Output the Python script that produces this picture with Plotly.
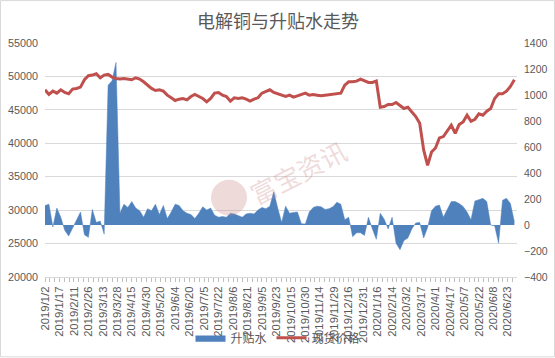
import plotly.graph_objects as go

# trading-day index (every 3rd trading day from 2019/1/2)
day_index = list(range(0, 360, 3))

# 升贴水 (right axis)
premium = [150, 160, -15, 130, 60, -40, -85, -20, 40, 100,
           -75, -95, 120, 20, 30, -70, 1075, 1110, 1250, 90,
           160, 135, 180, 130, 110, 60, 125, 110, 160, 80,
           150, 50, 100, 160, 150, 110, 90, 80, 50, 90,
           140, 115, 130, 75, 60, 65, 60, 90, 85, 70,
           60, 85, 90, 85, 115, 135, 125, 145, 255, 130,
           20, 145, 90, 97, 100, 10, 8, 100, 135, 145,
           140, 120, 125, 140, 175, 160, 40, 60, -90, -60,
           -60, -80, 60, -30, -110, 90, 45, -30, 60, -140,
           -190, -120, -100, -30, 15, 20, -100, -20, 110, 145,
           153, 60, 120, 180, 180, 165, 143, 100, 40, 185,
           195, 205, 180, 0, -5, -140, 190, 205, 165, 25]

# 现货价格 (left axis)
price = [48000, 47300, 47800, 47500, 48000, 47600, 47400, 48100, 48200, 48400,
         49500, 50100, 50200, 50400, 49800, 50200, 50300, 49900, 49700, 49600,
         49700, 49600, 49500, 49800, 49600, 49200, 48700, 48200, 47900, 48000,
         47800, 47200, 46800, 46400, 46600, 46700, 46500, 47000, 47300, 47000,
         46700, 46200, 46700, 47500, 47600, 47200, 47000, 46300, 46800, 46700,
         46800, 46600, 46300, 46600, 46800, 47500, 47700, 48000, 47600, 47400,
         47200, 47000, 47200, 46900, 47100, 47300, 47500, 47200, 47300, 47200,
         47100, 47200, 47300, 47400, 47400, 47500, 48700, 49200, 49200, 49300,
         49600, 49300, 49100, 49100, 49300, 45400, 45500, 45800, 45800, 46100,
         45600, 45200, 45400, 44700, 44000, 43000, 39000, 36700, 38700, 39300,
         40800, 41000, 41900, 42700, 41500, 42800, 43200, 44200, 43300, 43600,
         44400, 44200, 44800, 45200, 46700, 47400, 47400, 47800, 48500, 49500]

tick_index = list(range(0, 353, 11))
tick_labels = ["2019/1/2", "2019/1/17", "2019/2/11", "2019/2/26", "2019/3/13",
               "2019/3/28", "2019/4/15", "2019/4/30", "2019/5/20", "2019/6/4",
               "2019/6/20", "2019/7/5", "2019/7/22", "2019/8/6", "2019/8/21",
               "2019/9/5", "2019/9/23", "2019/10/15", "2019/10/30", "2019/11/14",
               "2019/11/29", "2019/12/16", "2019/12/31", "2020/1/16", "2020/2/14",
               "2020/3/2", "2020/3/17", "2020/4/1", "2020/4/17", "2020/5/7",
               "2020/5/22", "2020/6/8", "2020/6/23"]

BLUE = "#4F81BD"
RED = "#C0504D"
GRAY = "#595959"
GRID = "#D9D9D9"
NUMFONT = "Liberation Sans, Arial, sans-serif"
CJK = "Noto Sans CJK SC, sans-serif"

fig = go.Figure()
fig.add_trace(go.Scatter(
    x=day_index, y=premium, name="升贴水", mode="lines",
    line=dict(color=BLUE, width=0.5), fill="tozeroy", fillcolor=BLUE,
    yaxis="y"))
fig.add_trace(go.Scatter(
    x=day_index, y=price, name="现货价格", mode="lines",
    line=dict(color=RED, width=3), yaxis="y2"))

W, H = 555, 366
L, R, T = 45, 38, 43
PLOT_BOTTOM = 277.5
B = H - PLOT_BOTTOM
pw, ph = W - L - R, PLOT_BOTTOM - T

def px(xp):
    return (xp - L) / pw

def py(yp):
    return (PLOT_BOTTOM - yp) / ph

shapes = [
    dict(type="rect", xref="paper", yref="paper",
         x0=px(0.5), x1=px(554.5), y0=py(357.5), y1=py(0.5),
         line=dict(color=GRID, width=1), fillcolor="rgba(0,0,0,0)", layer="below"),
    dict(type="circle", xref="paper", yref="paper",
         x0=px(211), x1=px(247), y0=py(216), y1=py(180),
         line=dict(width=0), fillcolor="rgba(205,140,140,0.32)", layer="above"),
]

annotations = [
    dict(text="富宝资讯", xref="paper", yref="paper", x=px(298), y=py(172),
         showarrow=False, textangle=-27,
         font=dict(family=CJK, size=26, color="rgba(205,140,140,0.32)")),
    dict(text="电解铜与升贴水走势", xref="paper", yref="paper", x=px(278), y=py(20),
         showarrow=False, xanchor="center", yanchor="middle",
         font=dict(family=CJK, size=18, color=GRAY)),
]

fig.update_layout(
    width=W, height=H,
    margin=dict(l=L, r=R, t=T, b=B, pad=0),
    paper_bgcolor="white", plot_bgcolor="white",
    showlegend=True,
    legend=dict(orientation="h", x=px(278), xanchor="center", y=py(338.5),
                yanchor="middle", font=dict(family=CJK, size=12, color=GRAY),
                bgcolor="rgba(0,0,0,0)", itemwidth=30, tracegroupgap=0),
    xaxis=dict(range=[0, 359], showgrid=False, zeroline=False,
               tickmode="array", tickvals=tick_index, ticktext=tick_labels,
               tickangle=-90, ticks="outside", ticklen=4, tickcolor="#BFBFBF",
               showline=True, linecolor=GRID, linewidth=1, automargin=False,
               minor=dict(dtick=11 / 3, ticks="outside", ticklen=4, tickcolor="#BFBFBF",
                          showgrid=False),
               tickfont=dict(family=NUMFONT, size=11.3, color=GRAY)),
    yaxis=dict(range=[-400, 1400], dtick=200, side="right", showgrid=False,
               zeroline=False, showline=False, ticks="", ticklabelstandoff=6,
               tickformat="d", automargin=False,
               tickfont=dict(family=NUMFONT, size=10.5, color=GRAY)),
    yaxis2=dict(range=[20000, 55000], dtick=5000, side="left", overlaying="y",
                showgrid=True, gridcolor=GRID, gridwidth=1, zeroline=False,
                showline=False, ticks="", ticklabelstandoff=6, tickformat="d",
                automargin=False,
                tickfont=dict(family=NUMFONT, size=10.8, color=GRAY)),
    shapes=shapes, annotations=annotations,
)

fig.write_html("out.html", config={"displayModeBar": False},
               post_script="document.body.style.margin='0';")
